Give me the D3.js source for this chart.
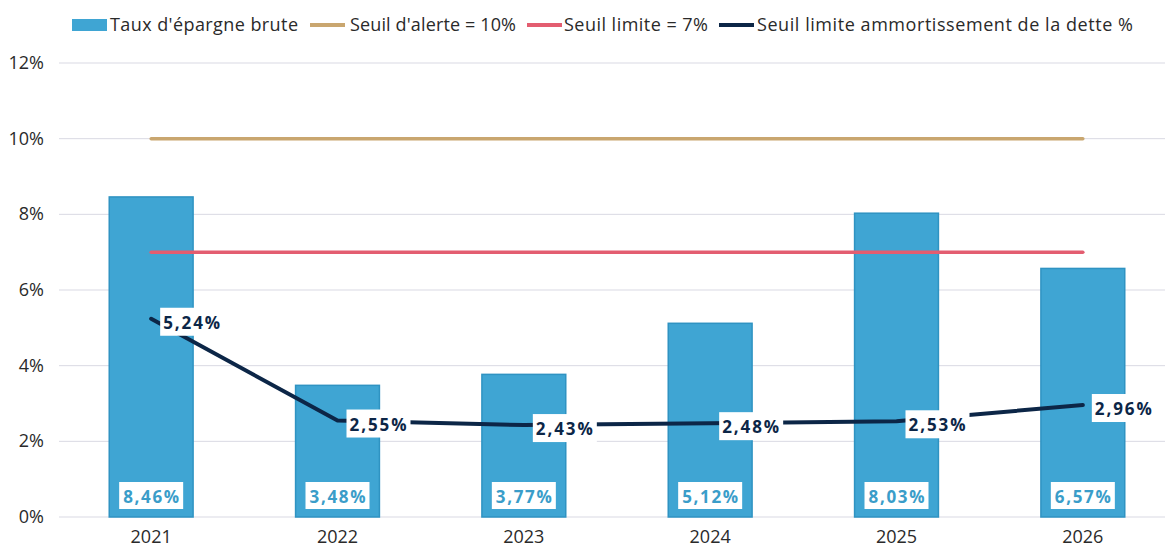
<!DOCTYPE html>
<html><head><meta charset="utf-8">
<script src="https://cdn.jsdelivr.net/npm/d3@7"></script>
<style>body{margin:0;background:#fff;font-family:"Open Sans",sans-serif;}</style>
</head><body><svg id="c" width="1165" height="549"></svg>
<script>
const years = ["2021","2022","2023","2024","2025","2026"];
const epargne = [8.46,3.48,3.77,5.12,8.03,6.57];
const seuilAlerte = [10,10,10,10,10,10];
const seuilLimite = [7,7,7,7,7,7];
const amort = [5.24,2.55,2.43,2.48,2.53,2.96];
const yTicks = [0,2,4,6,8,10,12];
const legendLabels = ["Taux d'épargne brute","Seuil d'alerte = 10%","Seuil limite = 7%","Seuil limite ammortissement de la dette %"];

const svg = d3.select("#c");
const fmt = v => v.toFixed(2).replace(".", ",") + "%";
const x = d3.scaleBand().domain(years).range([58,1176]).paddingInner(0.55).paddingOuter(0.275);
const xc = d => x(d) + x.bandwidth()/2;
const y = d3.scaleLinear().domain([0,12]).range([517,63]);

// grid
svg.append("g").selectAll("line").data(yTicks).join("line")
  .attr("x1",59).attr("x2",1165).attr("y1",d=>y(d)).attr("y2",d=>y(d))
  .attr("stroke","#d9d9e3").attr("stroke-width",1);
svg.append("g").selectAll("text").data(yTicks).join("text")
  .attr("x",44).attr("y",d=>y(d)+6).attr("text-anchor","end")
  .attr("font-size",18).attr("fill","#2a2a2a").text(d=>d+"%");

// bars
svg.append("g").selectAll("rect").data(epargne).join("rect")
  .attr("x",(d,i)=>x(years[i])).attr("width",x.bandwidth())
  .attr("y",d=>y(d)).attr("height",d=>y(0)-y(d))
  .attr("fill","#3fa5d3").attr("stroke","#2f93c2").attr("stroke-width",1.5);

// x labels
svg.append("g").selectAll("text").data(years).join("text")
  .attr("x",d=>xc(d)).attr("y",543).attr("text-anchor","middle")
  .attr("font-size",18).attr("fill","#2a2a2a").text(d=>d);

// threshold lines
const line = d3.line().x((d,i)=>xc(years[i])).y(d=>y(d));
svg.append("path").attr("d",line(seuilAlerte)).attr("fill","none").attr("stroke","#c9a66f").attr("stroke-width",3.5).attr("stroke-linecap","round");
svg.append("path").attr("d",line(seuilLimite)).attr("fill","none").attr("stroke","#e35d70").attr("stroke-width",3.5).attr("stroke-linecap","round");
svg.append("path").attr("d",line(amort)).attr("fill","none").attr("stroke","#0c2647").attr("stroke-width",4).attr("stroke-linejoin","round").attr("stroke-linecap","round");

// bar value labels
const bl = svg.append("g").selectAll("g").data(epargne).join("g")
  .attr("transform",(d,i)=>`translate(${xc(years[i])},${y(0)-21})`);
bl.append("rect").attr("x",-32).attr("y",-14).attr("width",64).attr("height",27).attr("fill","#fff");
bl.append("text").attr("text-anchor","middle").attr("y",7).attr("font-size",17).attr("font-weight","bold")
  .attr("textLength",56).attr("fill","#3a9dc9").text(d=>fmt(d));

// line labels
const ll = svg.append("g").selectAll("g").data(amort).join("g")
  .attr("transform",(d,i)=>`translate(${xc(years[i])+9},${y(d)+3})`);
ll.append("rect").attr("x",0).attr("y",-14).attr("width",64).attr("height",28).attr("fill","#fff");
ll.append("text").attr("x",3).attr("y",7).attr("font-size",17).attr("font-weight","bold")
  .attr("textLength",57).attr("fill","#0c2647").text(d=>fmt(d));

// legend
const lg = svg.append("g").attr("font-size",18).attr("fill","#2a2a2a");
lg.append("rect").attr("x",72).attr("y",19).attr("width",35).attr("height",12).attr("fill","#3fa5d3");
lg.append("text").attr("x",110).attr("y",31).attr("textLength",188).text(legendLabels[0]);
const items = [[310,350,166,"#c9a66f",legendLabels[1]],[527,564,144,"#e35d70",legendLabels[2]],[719,757,376,"#0c2647",legendLabels[3]]];
items.forEach(([lx,tx,tl,c,t])=>{
  lg.append("line").attr("x1",lx).attr("x2",lx+35).attr("y1",25).attr("y2",25).attr("stroke",c).attr("stroke-width",4);
  lg.append("text").attr("x",tx).attr("y",31).attr("textLength",tl).text(t);
});
</script></body></html>
